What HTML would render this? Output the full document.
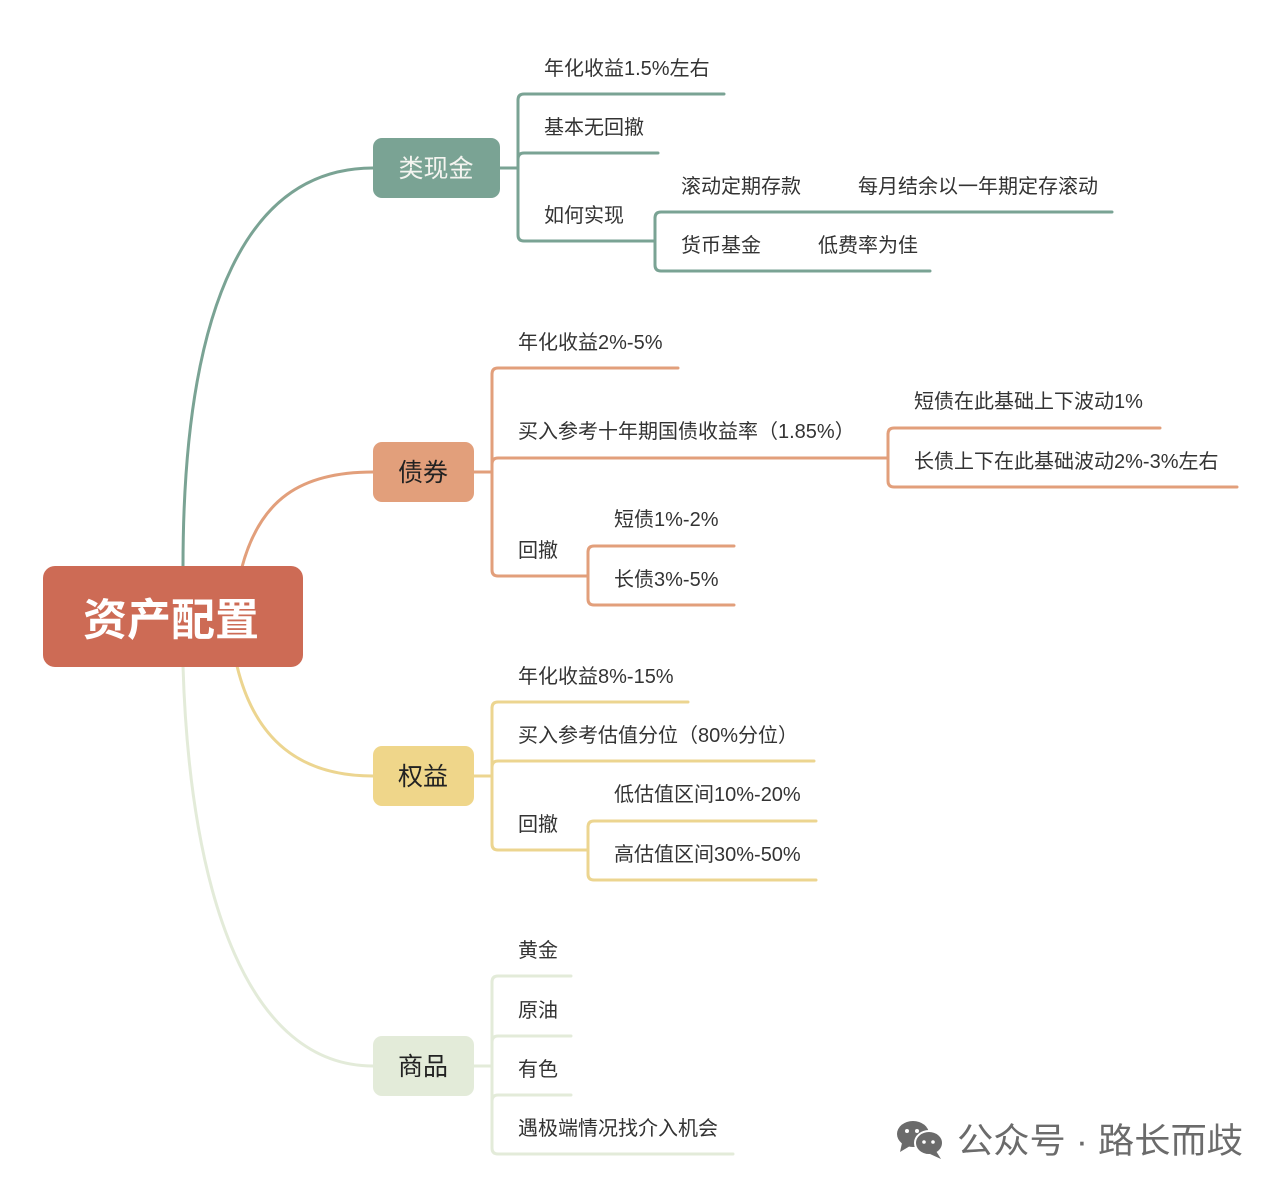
<!DOCTYPE html>
<html><head><meta charset="utf-8"><style>
html,body{margin:0;padding:0;background:#fff;}
svg{display:block;}
text{font-family:"Liberation Sans","Noto Sans CJK SC",sans-serif;}
</style></head><body>
<svg width="1280" height="1198" viewBox="0 0 1280 1198" xmlns="http://www.w3.org/2000/svg">
<g fill="none" stroke-width="3" stroke-linecap="round">
 <path d="M183,567 C183,300 250,168 373,168" stroke="#7aa394"/>
 <path d="M242,567 C260,500 300,472 373,472" stroke="#e29f7b"/>
 <path d="M237,666 C255,740 300,776 373,776" stroke="#ecd590"/>
 <path d="M183,666 C190,900 250,1066 373,1066" stroke="#e3ebd9"/>

 <g stroke="#7aa394">
  <path d="M500,168 H518"/>
  <path d="M518,100 Q518,94 524,94 H724"/>
  <path d="M518,100 V235 Q518,241 524,241 H654"/>
  <path d="M518,159 Q518,153 524,153 H658"/>
  <path d="M655,218 Q655,212 661,212 H1112"/>
  <path d="M655,218 V265 Q655,271 661,271 H930"/>
 </g>
 <g stroke="#e29f7b">
  <path d="M474,472 H492"/>
  <path d="M492,374 Q492,368 498,368 H678"/>
  <path d="M492,374 V570 Q492,576 498,576 H588"/>
  <path d="M492,464 Q492,458 498,458 H888"/>
  <path d="M888,434 Q888,428 894,428 H1160"/>
  <path d="M888,434 V481 Q888,487 894,487 H1237"/>
  <path d="M588,552 Q588,546 594,546 H734"/>
  <path d="M588,552 V599 Q588,605 594,605 H734"/>
 </g>
 <g stroke="#ecd590">
  <path d="M474,776 H492"/>
  <path d="M492,708 Q492,702 498,702 H688"/>
  <path d="M492,708 V844 Q492,850 498,850 H588"/>
  <path d="M492,767 Q492,761 498,761 H814"/>
  <path d="M588,827 Q588,821 594,821 H816"/>
  <path d="M588,827 V874 Q588,880 594,880 H816"/>
 </g>
 <g stroke="#e3ebd9">
  <path d="M474,1066 H492"/>
  <path d="M492,982 Q492,976 498,976 H571"/>
  <path d="M492,982 V1148 Q492,1154 498,1154 H733"/>
  <path d="M492,1042 Q492,1036 498,1036 H571"/>
  <path d="M492,1101 Q492,1095 498,1095 H571"/>
 </g>
</g>

<rect x="43" y="566" width="260" height="101" rx="12" fill="#cd6b55"/>
<text x="171" y="635" font-size="44" font-weight="bold" fill="#fff" text-anchor="middle">资产配置</text>

<rect x="373" y="138" width="127" height="60" rx="9" fill="#7aa394"/>
<text x="436" y="177" font-size="25" fill="#f4f4f0" text-anchor="middle">类现金</text>
<rect x="373" y="442" width="101" height="60" rx="9" fill="#e29f7b"/>
<text x="423" y="481" font-size="25" fill="#222" text-anchor="middle">债券</text>
<rect x="373" y="746" width="101" height="60" rx="9" fill="#efd68a"/>
<text x="423" y="785" font-size="25" fill="#222" text-anchor="middle">权益</text>
<rect x="373" y="1036" width="101" height="60" rx="9" fill="#e3ebd9"/>
<text x="423" y="1075" font-size="25" fill="#222" text-anchor="middle">商品</text>

<g font-size="20" fill="#333">
 <text x="544" y="75">年化收益1.5%左右</text>
 <text x="544" y="134">基本无回撤</text>
 <text x="544" y="222">如何实现</text>
 <text x="681" y="193">滚动定期存款</text>
 <text x="858" y="193">每月结余以一年期定存滚动</text>
 <text x="681" y="252">货币基金</text>
 <text x="818" y="252">低费率为佳</text>

 <text x="518" y="349">年化收益2%-5%</text>
 <text x="518" y="438">买入参考十年期国债收益率（1.85%）</text>
 <text x="914" y="408">短债在此基础上下波动1%</text>
 <text x="914" y="468">长债上下在此基础波动2%-3%左右</text>
 <text x="518" y="557">回撤</text>
 <text x="614" y="526">短债1%-2%</text>
 <text x="614" y="586">长债3%-5%</text>

 <text x="518" y="683">年化收益8%-15%</text>
 <text x="518" y="742">买入参考估值分位（80%分位）</text>
 <text x="518" y="831">回撤</text>
 <text x="614" y="801">低估值区间10%-20%</text>
 <text x="614" y="861">高估值区间30%-50%</text>

 <text x="518" y="957">黄金</text>
 <text x="518" y="1017">原油</text>
 <text x="518" y="1076">有色</text>
 <text x="518" y="1135">遇极端情况找介入机会</text>
</g>

<g fill="#6b6b6b">
 <ellipse cx="913" cy="1134" rx="16" ry="13"/>
 <path d="M902,1143 L900,1152 L910,1146 Z"/>
 <ellipse cx="929" cy="1143" rx="14" ry="12" stroke="#fff" stroke-width="2"/>
 <path d="M936,1151 L941,1159 L930,1154 Z"/>
 <circle cx="907" cy="1131" r="2" fill="#fff"/>
 <circle cx="917" cy="1131" r="2" fill="#fff"/>
 <circle cx="924" cy="1142" r="1.8" fill="#fff"/>
 <circle cx="933" cy="1142" r="1.8" fill="#fff"/>
</g>
<text x="957" y="1153" font-size="35" fill="#6b6b6b" textLength="286" lengthAdjust="spacingAndGlyphs">公众号 · 路长而歧</text>
</svg>
</body></html>
